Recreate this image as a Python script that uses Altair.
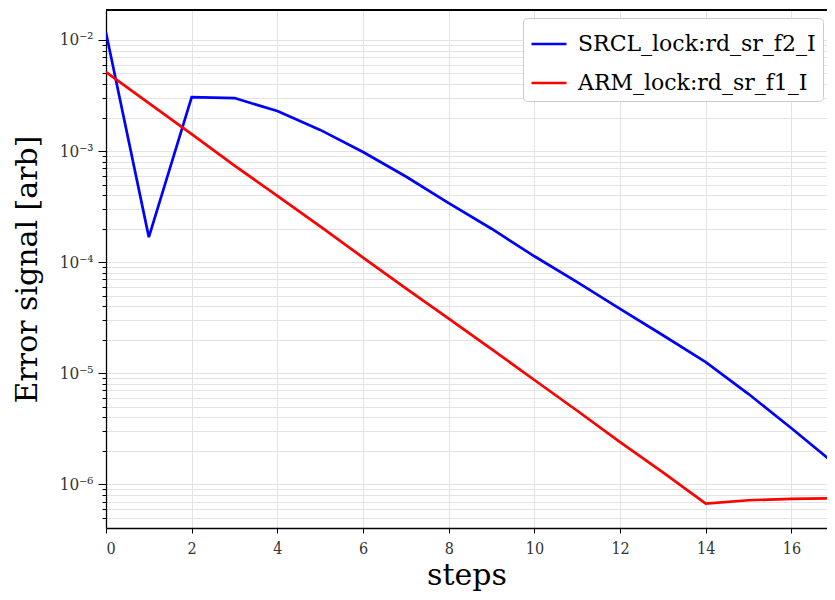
import altair as alt
import pandas as pd

steps = list(range(18))
srcl = [1.16e-2, 1.68e-4, 3.06e-3, 3.0e-3, 2.29e-3, 1.55e-3, 9.8e-4, 5.9e-4, 3.4e-4,
        2.0e-4, 1.13e-4, 6.6e-5, 3.8e-5, 2.2e-5, 1.26e-5, 6.5e-6, 3.2e-6, 1.54e-6]
arm = [5.15e-3, 2.7e-3, 1.42e-3, 7.4e-4, 3.95e-4, 2.1e-4, 1.1e-4, 5.8e-5, 3.1e-5,
       1.65e-5, 8.7e-6, 4.6e-6, 2.4e-6, 1.28e-6, 6.7e-7, 7.2e-7, 7.4e-7, 7.5e-7]
series_names = ["SRCL_lock:rd_sr_f2_I", "ARM_lock:rd_sr_f1_I"]
series_colors = ["#0000ff", "#ff0000"]
x_ticks = [0, 2, 4, 6, 8, 10, 12, 14, 16]
decades = [-7, -6, -5, -4, -3, -2]

rows = []
for name, vals in zip(series_names, [srcl, arm]):
    for s, v in zip(steps, vals):
        rows.append({"steps": s, "value": v, "series": name})
df = pd.DataFrame(rows)

ymin, ymax = 4.05e-7, 1.86e-2
y_vals = [m * 10.0 ** k for k in decades for m in range(1, 10) if ymin <= m * 10.0 ** k <= ymax]

is_major = "abs(log(datum.value)/LN10 - round(log(datum.value)/LN10)) < 0.001"
label_expr = (is_major + " ? '10⁻' + ['⁰','¹','²','³','⁴','⁵','⁶','⁷','⁸','⁹'][-round(log(datum.value)/LN10)] : ''")

W, H = 721, 518
font = "DejaVu Serif"
tick_font = "DejaVu Serif Condensed, DejaVu Serif"

lines = alt.Chart(df).mark_line(strokeWidth=2.7, clip=True).encode(
    x=alt.X("steps:Q", scale=alt.Scale(domain=[0, 16.83], nice=False, zero=False),
            axis=alt.Axis(values=x_ticks, title="steps", titleFont=font, titleFontSize=30,
                          titleFontWeight="normal", titleColor="black",
                          titleBaseline="alphabetic", titleY=56,
                          labelFont=tick_font, labelFontSize=16, labelColor="#333",
                          tickSize=5, tickColor="black", domainColor="black", domainWidth=1.3,
                          gridColor="#e3e3e3", labelPadding=7)),
    y=alt.Y("value:Q", scale=alt.Scale(type="log", domain=[ymin, ymax], nice=False),
            axis=alt.Axis(values=y_vals, labelExpr=label_expr, title="Error signal [arb]",
                          titleFont=font, titleFontSize=30, titleFontWeight="normal",
                          titleColor="black", titleX=-70, titleY=259, titleBaseline="alphabetic",
                          labelFont=tick_font, labelFontSize=17, labelColor="#333",
                          tickSize={"condition": {"test": is_major, "value": 8}, "value": 4},
                          tickColor="black", domainColor="black", domainWidth=1.3,
                          gridColor="#e3e3e3", labelPadding=5)),
    color=alt.Color("series:N", scale=alt.Scale(domain=series_names, range=series_colors),
                    legend=alt.Legend(title=None, orient="none", legendX=417, legendY=8,
                                      labelFont=font, labelFontSize=22, labelColor="black",
                                      symbolType="stroke", symbolStrokeWidth=2.7, symbolSize=1225,
                                      labelOffset=10,
                                      strokeColor="#cccccc", fillColor="white", cornerRadius=4,
                                      padding=7, rowPadding=9, labelLimit=400)),
)

top_border = alt.Chart(df).mark_rule(color="black", strokeWidth=1.3).encode(
    x=alt.value(0), x2=alt.value(W), y=alt.value(0)
)

chart = alt.layer(lines, top_border).properties(
    width=W, height=H,
    autosize=alt.AutoSizeParams(type="none"),
    padding={"left": 98, "top": 2, "right": 0, "bottom": 64},
).configure_view(stroke=None)

chart.save("out.html", embed_options={"renderer": "svg", "actions": False})
